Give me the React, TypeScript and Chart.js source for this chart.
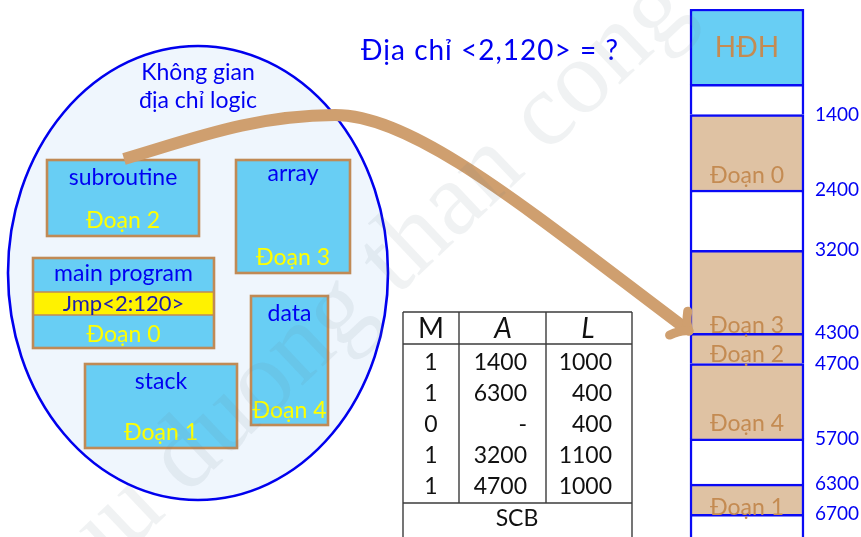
import { useEffect, useRef } from 'react';
import { Chart, registerables } from 'chart.js';

Chart.register(...registerables);

// ---------------- data ----------------
// physical memory map (addresses)
const memLabels = ['HĐH', '', 'Đoạn 0', '', 'Đoạn 3', 'Đoạn 2', 'Đoạn 4', '', 'Đoạn 1', ''];
const memStart = [0, 1000, 1400, 2400, 3200, 4300, 4700, 5700, 6300, 6700];
const memEnd = [1000, 1400, 2400, 3200, 4300, 4700, 5700, 6300, 6700, 7000];
const memKind = ['os', 'free', 'seg', 'free', 'seg', 'seg', 'seg', 'free', 'seg', 'free'];
const addrTicks = [1400, 2400, 3200, 4300, 4700, 5700, 6300, 6700];

// segment control block table
const scbHeader = ['M', 'A', 'L'];
const scbM = ['1', '1', '0', '1', '1'];
const scbA = ['1400', '6300', '-', '3200', '4700'];
const scbL = ['1000', '400', '400', '1100', '1000'];
const scbCaption = 'SCB';

// logical address space
const segTitles = ['subroutine', 'array', 'main program', 'data', 'stack'];
const segIds = [2, 3, 0, 4, 1];
const jumpInstr = 'Jmp<2:120>';
const spaceTitle = ['Không gian', 'địa chỉ logic'];
const question = 'Địa chỉ <2,120> = ?';
const watermark = 'cuu duong than cong . com';

// ---------------- layout / style ----------------
const FONT = 'Lato, "Noto Sans", sans-serif';
const BLUE = '#0000F2';
const YELLOW = '#FFFF00';
const BOX_FILL = '#68CEF4';
const BOX_EDGE = '#C08A55';
const TAN_FILL = '#DFC2A3';
const TAN_TEXT = '#C48B52';
const ARROW = '#CF9F6F';
const MEM_X = 747;
const MEM_W = 114;
const memLabelLift: Record<string, number> = { 'Đoạn 0': 15.5, 'Đoạn 3': 8.5, 'Đoạn 2': 9.5, 'Đoạn 4': 16, 'Đoạn 1': 8 };

const boxLayout: any[] = [
  { x0: 47, y0: 160, x1: 199, y1: 236, ty: 177, ly: 220 },
  { x0: 236, y0: 160, x1: 350, y1: 273, ty: 173, ly: 257 },
  { x0: 33, y0: 258, x1: 214, y1: 348, ty: 273, ly: 334, strip: [292, 315] },
  { x0: 251, y0: 296, x1: 328, y1: 425, ty: 313, ly: 410 },
  { x0: 85, y0: 364, x1: 237, y1: 448, ty: 381, ly: 432 },
];

function txt(ctx: CanvasRenderingContext2D, s: string, x: number, y: number, size: number, color: string, align: CanvasTextAlign = 'center', italic = false) {
  ctx.font = `${italic ? 'italic ' : ''}${size}px ${FONT}`;
  ctx.fillStyle = color;
  ctx.textAlign = align;
  ctx.textBaseline = 'alphabetic';
  ctx.fillText(s, x, y + size * 0.36);
}

const diagram = {
  id: 'diagram',
  beforeDatasetsDraw(chart: any) {
    const ctx: CanvasRenderingContext2D = chart.ctx;
    const sx = chart.scales.x;
    const sy = chart.scales.yd;
    const X = (v: number) => sx.getPixelForValue(v);
    const Y = (v: number) => sy.getPixelForValue(v);
    ctx.save();

    // logical space ellipse
    ctx.beginPath();
    ctx.ellipse(X(198), Y(273), X(388) - X(198), Y(500) - Y(273), 0, 0, Math.PI * 2);
    ctx.fillStyle = '#EFF6FD';
    ctx.fill();
    ctx.lineWidth = 2.6;
    ctx.strokeStyle = '#0000EE';
    ctx.stroke();
    txt(ctx, spaceTitle[0], X(198), Y(72), 23, BLUE);
    txt(ctx, spaceTitle[1], X(198), Y(100), 23, BLUE);

    // segments
    segTitles.forEach((t, i) => {
      const b = boxLayout[i];
      const x0 = X(b.x0), x1 = X(b.x1), y0 = Y(b.y0), y1 = Y(b.y1);
      const cx = (x0 + x1) / 2;
      ctx.fillStyle = BOX_FILL;
      ctx.fillRect(x0, y0, x1 - x0, y1 - y0);
      if (b.strip) {
        const s0 = Y(b.strip[0]), s1 = Y(b.strip[1]);
        ctx.fillStyle = '#FFF200';
        ctx.fillRect(x0, s0, x1 - x0, s1 - s0);
        ctx.strokeStyle = BOX_EDGE;
        ctx.lineWidth = 1.6;
        ctx.beginPath();
        ctx.moveTo(x0, s0); ctx.lineTo(x1, s0);
        ctx.moveTo(x0, s1); ctx.lineTo(x1, s1);
        ctx.stroke();
        txt(ctx, jumpInstr, cx, (s0 + s1) / 2, 22, '#1C1CB0');
      }
      ctx.strokeStyle = BOX_EDGE;
      ctx.lineWidth = 2.6;
      ctx.strokeRect(x0, y0, x1 - x0, y1 - y0);
      txt(ctx, t, cx, Y(b.ty), 23, BLUE);
      txt(ctx, `Đoạn ${segIds[i]}`, cx, Y(b.ly), 23, YELLOW);
    });

    // question
    (ctx as any).letterSpacing = '1px';
    txt(ctx, question, X(490), Y(50), 28, BLUE);
    (ctx as any).letterSpacing = '0px';

    // SCB table
    const L = X(403), R = X(632), c1 = X(459), c2 = X(546);
    const top = Y(312), head = Y(344), cap = Y(503), bottom = Y(545);
    ctx.strokeStyle = '#3C3C3C';
    ctx.lineWidth = 1.4;
    ctx.beginPath();
    ctx.moveTo(L, top); ctx.lineTo(R, top);
    ctx.moveTo(L, head); ctx.lineTo(R, head);
    ctx.moveTo(L, cap); ctx.lineTo(R, cap);
    ctx.moveTo(L, top); ctx.lineTo(L, bottom);
    ctx.moveTo(R, top); ctx.lineTo(R, bottom);
    ctx.moveTo(c1, top); ctx.lineTo(c1, cap);
    ctx.moveTo(c2, top); ctx.lineTo(c2, cap);
    ctx.stroke();
    const ink = '#111111';
    txt(ctx, scbHeader[0], X(431), Y(328), 28, ink);
    txt(ctx, scbHeader[1], X(503), Y(328), 28, ink, 'center', true);
    txt(ctx, scbHeader[2], X(588), Y(328), 28, ink, 'center', true);
    scbM.forEach((m, i) => {
      const yy = Y(362 + i * 31);
      txt(ctx, m, X(431), yy, 23, ink);
      txt(ctx, scbA[i], X(527), yy, 23, ink, 'right');
      txt(ctx, scbL[i], X(612), yy, 23, ink, 'right');
    });
    txt(ctx, scbCaption, X(517), Y(518), 23, ink);

    ctx.restore();
  },
  afterDatasetsDraw(chart: any) {
    const ctx: CanvasRenderingContext2D = chart.ctx;
    const sx = chart.scales.x;
    const sd = chart.scales.yd;
    const sm = chart.scales.y;
    const X = (v: number) => sx.getPixelForValue(v);
    const Y = (v: number) => sd.getPixelForValue(v);
    ctx.save();

    // labels inside physical memory
    memLabels.forEach((l, i) => {
      if (!l) return;
      const t = sm.getPixelForValue(memStart[i]);
      const b = sm.getPixelForValue(memEnd[i]);
      if (memKind[i] === 'os') txt(ctx, l, X(MEM_X), (t + b) / 2, 28, TAN_TEXT);
      else txt(ctx, l, X(MEM_X), b - (memLabelLift[l] || 10), 23, TAN_TEXT);
    });

    // arrow
    ctx.strokeStyle = ARROW;
    ctx.lineWidth = 12;
    ctx.lineCap = 'butt';
    ctx.beginPath();
    ctx.moveTo(X(124), Y(159));
    ctx.bezierCurveTo(X(192), Y(139), X(255), Y(115), X(335), Y(115));
    ctx.bezierCurveTo(X(415), Y(115), X(528), Y(210), X(685), Y(328));
    ctx.stroke();
    const ux = 0.796, uy = 0.605, nx = -uy, ny = ux;
    const ex = X(689), ey = Y(331);
    ctx.lineWidth = 9;
    ctx.lineCap = 'round';
    [-1, 1].forEach((s) => {
      ctx.beginPath();
      ctx.moveTo(ex - 13 * ux + s * 15 * nx, ey - 13 * uy + s * 15 * ny);
      ctx.quadraticCurveTo(ex - 7 * ux + s * 4 * nx, ey - 7 * uy + s * 4 * ny, ex, ey);
      ctx.stroke();
    });
    ctx.restore();
  },
  afterDraw(chart: any) {
    const ctx: CanvasRenderingContext2D = chart.ctx;
    const sx = chart.scales.x;
    const sd = chart.scales.yd;
    ctx.save();
    const ang = (-43.5 * Math.PI) / 180;
    ctx.font = '105px "Liberation Serif", serif';
    const pre = ctx.measureText('cuu duong ').width;
    const ax = sx.getPixelForValue(396) - pre * Math.cos(ang);
    const ay = sd.getPixelForValue(297) - pre * Math.sin(ang);
    ctx.translate(ax, ay);
    ctx.rotate(ang);
    ctx.fillStyle = 'rgba(110,125,135,0.10)';
    ctx.textAlign = 'left';
    ctx.textBaseline = 'alphabetic';
    ctx.fillText(watermark, 0, 0);
    ctx.restore();
  },
};

export default function App() {
  const ref = useRef<HTMLCanvasElement>(null);
  useEffect(() => {
    const chart = new Chart(ref.current as HTMLCanvasElement, {
      type: 'bar',
      data: {
        datasets: [
          {
            label: 'Bộ nhớ vật lý',
            data: memStart.map((s, i) => ({ x: MEM_X, y: [s, memEnd[i]] })) as any,
            xAxisID: 'x',
            yAxisID: 'y',
            backgroundColor: memKind.map((k) => (k === 'os' ? BOX_FILL : k === 'seg' ? TAN_FILL : '#FFFFFF')),
            borderColor: '#0A0AF5',
            borderWidth: { top: 2.5, left: 2.5, right: 2.5, bottom: 0 } as any,
            borderSkipped: false,
            barThickness: MEM_W,
          } as any,
        ],
      },
      options: {
        responsive: false,
        devicePixelRatio: 1,
        animation: false,
        events: [],
        layout: { padding: { top: 9, left: 0, right: 0, bottom: 0 } },
        plugins: { legend: { display: false }, tooltip: { enabled: false } },
        scales: {
          x: { type: 'linear', min: 0, max: 806, display: false, offset: false, grid: { offset: false } },
          yd: { type: 'linear', min: 9, max: 537, reverse: true, display: false, offset: false },
          y: {
            type: 'linear',
            position: 'right',
            reverse: true,
            min: 0,
            max: 7000,
            offset: false,
            afterBuildTicks: (s: any) => {
              s.ticks = addrTicks.map((v) => ({ value: v }));
            },
            afterFit: (s: any) => {
              s.width = 55;
              s.paddingTop = 0;
              s.paddingBottom = 0;
              s.paddingLeft = 0;
              s.paddingRight = 0;
            },
            grid: { display: false, drawTicks: false },
            border: { display: false },
            ticks: {
              color: BLUE,
              font: { family: FONT, size: 19 },
              padding: 9,
              autoSkip: false,
              callback: (v: any) => String(v),
            },
          },
        } as any,
      },
      plugins: [diagram],
    });
    return () => chart.destroy();
  }, []);
  return (
    <canvas
      ref={ref}
      width={861}
      height={537}
      style={{ position: 'absolute', left: 0, top: 0, width: 861, height: 537 }}
    />
  );
}
